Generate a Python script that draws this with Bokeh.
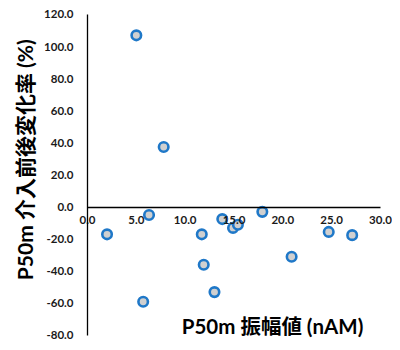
from bokeh.plotting import figure
from bokeh.models import FixedTicker, NumeralTickFormatter, Label, ColumnDataSource, LinearAxis
from bokeh.embed import file_html
from bokeh.resources import INLINE

amplitude = [5.0, 7.8, 2.0, 6.3, 5.7, 11.7, 11.9, 13.0, 13.8, 14.9, 15.4, 17.9, 20.9, 24.7, 27.1]
change_rate = [107, 37.4, -17, -5, -59, -17, -36, -53, -7.5, -13, -11, -3, -31, -15.5, -17.5]
x_ticks = [0, 5, 10, 15, 20, 25, 30]
y_ticks = [-80, -60, -40, -20, 0, 20, 40, 60, 80, 100, 120]
x_title = "P50m 振幅値 (nAM)"
y_title = "P50m 介入前後変化率 (%)"

FONT = "Lato, 'Noto Sans CJK JP'"

p = figure(width=392, height=342, output_backend="svg", toolbar_location=None,
           x_range=(-8.91, 31.23), y_range=(-84.4, 128.7),
           x_axis_location=None, y_axis_location=None, min_border=0)
p.grid.visible = False
p.outline_line_color = None
p.background_fill_color = "white"
p.border_fill_color = "white"

src = ColumnDataSource(dict(x=amplitude, y=change_rate))
p.scatter("x", "y", source=src, size=9.5, fill_color="#d0d0d0",
          line_color="#1f78c8", line_width=2.6)

xaxis = LinearAxis(fixed_location=0, bounds=(0, 30), ticker=FixedTicker(ticks=x_ticks))
yaxis = LinearAxis(fixed_location=0, bounds=(-80, 120), ticker=FixedTicker(ticks=y_ticks))
for ax in (xaxis, yaxis):
    ax.axis_line_color = "black"
    ax.axis_line_width = 1.3
    ax.major_tick_line_color = None
    ax.minor_tick_line_color = None
    ax.major_tick_out = 0
    ax.major_tick_in = 0
    ax.minor_tick_out = 0
    ax.minor_tick_in = 0
    ax.major_label_text_font = "Lato"
    ax.major_label_text_font_style = "bold"
    ax.major_label_text_font_size = "11.5px"
    ax.major_label_text_color = "#1a1a1a"
    ax.formatter = NumeralTickFormatter(format="0.0")
xaxis.major_label_standoff = 9
yaxis.major_label_standoff = 14
p.add_layout(xaxis, "below")
p.add_layout(yaxis, "left")

p.add_layout(Label(x=18.94, y=-74.4, text=x_title, text_font=FONT, text_font_style="bold",
                   text_font_size="20.5px", text_align="center", text_baseline="middle",
                   text_color="black"))
p.add_layout(Label(x=-6.45, y=29.5, text=y_title, text_font=FONT, text_font_style="bold",
                   text_font_size="21px", text_align="center", text_baseline="middle",
                   angle=90, angle_units="deg", text_color="black"))

open("out.html", "w").write(file_html(p, INLINE))
